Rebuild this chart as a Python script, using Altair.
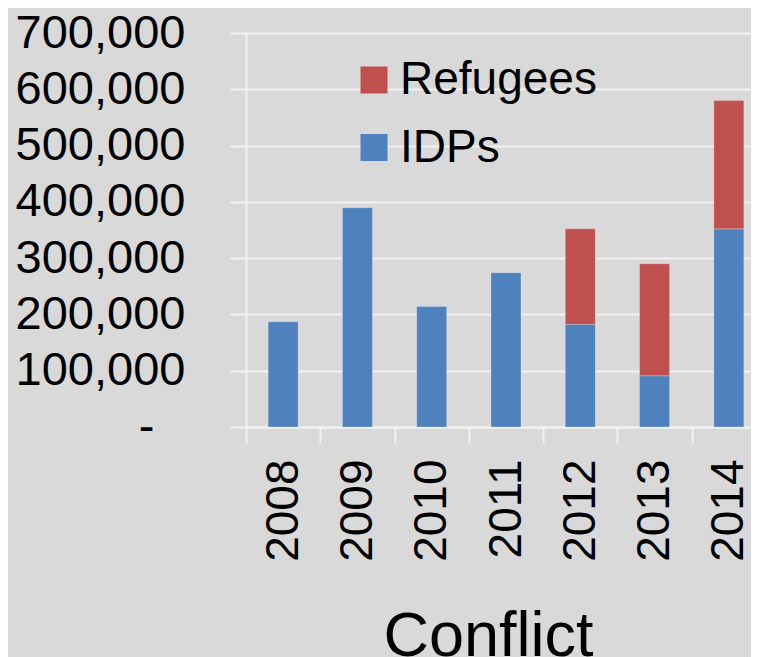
import altair as alt
import pandas as pd

years = ["2008", "2009", "2010", "2011", "2012", "2013", "2014"]
idps = [187000, 389500, 214000, 274000, 182500, 91000, 352000]
refugees = [0, 0, 0, 0, 169500, 199000, 228000]

series_names = ["Refugees", "IDPs"]
series_colors = ["#c0504d", "#4f81bd"]

rows = []
for y, i, r in zip(years, idps, refugees):
    if i > 0:
        rows.append({"year": y, "series": "IDPs", "value": i, "order": 0})
    if r > 0:
        rows.append({"year": y, "series": "Refugees", "value": r, "order": 1})
df = pd.DataFrame(rows)

FONT = "Liberation Sans"
LINE = "#f2f2f2"

chart = (
    alt.Chart(df)
    .mark_bar(size=30, stroke="#ffffff", strokeOpacity=0.25, strokeWidth=1)
    .encode(
        x=alt.X(
            "year:N",
            sort=years,
            scale=alt.Scale(range=[0, 520], paddingInner=0, paddingOuter=0),
            axis=alt.Axis(
                title="Conflict",
                titleFont=FONT,
                titleFontSize=63,
                titleFontWeight="normal",
                titleColor="#000000",
                titleX=242,
                titleY=228,
                titleAlign="center",
                titleBaseline="alphabetic",
                titleAnchor="start",
                labelAngle=-90,
                labelFont=FONT,
                labelFontSize=46,
                labelColor="#000000",
                labelPadding=16,
                tickBand="extent",
                tickSize=16,
                tickWidth=2,
                tickColor=LINE,
                domainColor=LINE,
                domainWidth=2,
                grid=False,
            ),
        ),
        y=alt.Y(
            "value:Q",
            stack="zero",
            scale=alt.Scale(domain=[0, 700000], nice=False),
            axis=alt.Axis(
                title=None,
                values=[0, 100000, 200000, 300000, 400000, 500000, 600000, 700000],
                labelExpr="datum.value == 0 ? '-' : format(datum.value, ',')",
                labelFont=FONT,
                labelFontSize=47,
                labelColor="#000000",
                labelPadding={"condition": {"test": "datum.value == 0", "value": 76}, "value": 45},
                tickSize=16,
                tickWidth=2,
                tickColor=LINE,
                domainColor=LINE,
                domainWidth=2,
                grid=True,
                gridColor=LINE,
                gridWidth=2,
            ),
        ),
        color=alt.Color(
            "series:N",
            scale=alt.Scale(domain=series_names, range=series_colors),
            legend=alt.Legend(
                title=None,
                orient="none",
                legendX=105,
                legendY=24,
                symbolType="square",
                symbolSize=729,
                symbolStrokeWidth=0,
                labelFont=FONT,
                labelFontSize=46,
                labelColor="#000000",
                labelOffset=3,
                labelLimit=0,
                rowPadding=21.5,
                padding=0,
            ),
        ),
        order=alt.Order("order:Q"),
    )
    .properties(
        width=505,
        height=394,
        background="#d9d9d9",
        autosize=alt.AutoSizeParams(type="none"),
        padding={"left": 238, "top": 25, "right": 0, "bottom": 231},
    )
    .configure_view(stroke=None)
)

chart.save("out.html", embed_options={"renderer": "svg", "actions": False})
